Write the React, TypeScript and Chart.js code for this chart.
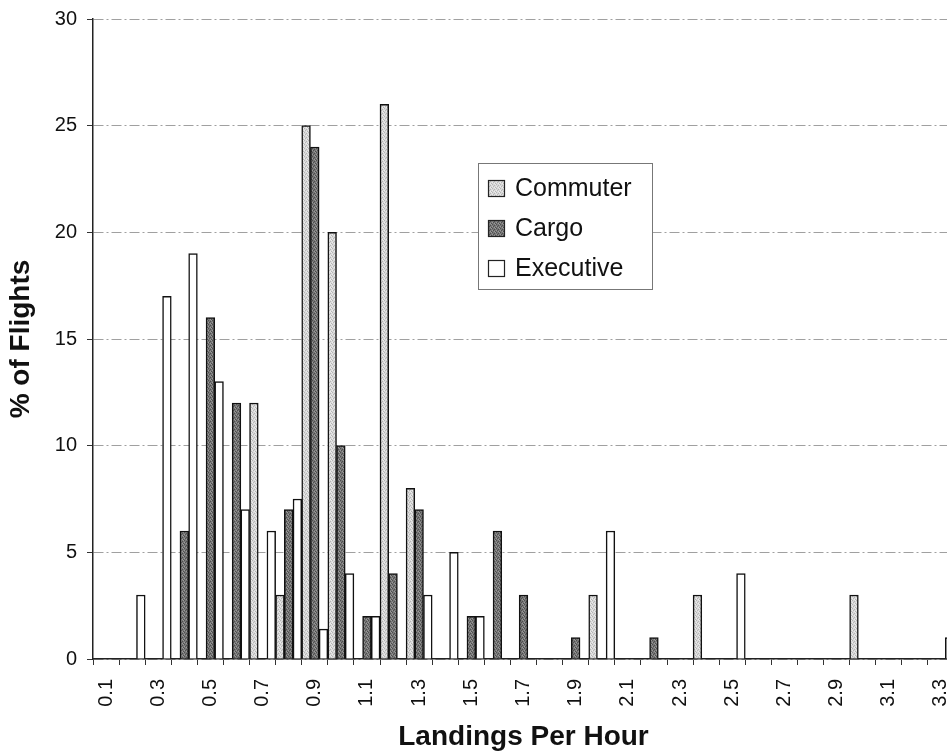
import React, { useEffect, useRef } from 'react';
import { Chart, registerables } from 'chart.js';

Chart.register(...registerables);

// ---- DATA ----
const categories = [
  '0.1', '0.2', '0.3', '0.4', '0.5', '0.6', '0.7', '0.8', '0.9', '1.0', '1.1',
  '1.2', '1.3', '1.4', '1.5', '1.6', '1.7', '1.8', '1.9', '2.0', '2.1', '2.2',
  '2.3', '2.4', '2.5', '2.6', '2.7', '2.8', '2.9', '3.0', '3.1', '3.2', '3.3',
];
const xTickLabels = [
  '0.1', '0.3', '0.5', '0.7', '0.9', '1.1', '1.3', '1.5', '1.7',
  '1.9', '2.1', '2.3', '2.5', '2.7', '2.9', '3.1', '3.3',
];
const seriesNames = ['Commuter', 'Cargo', 'Executive'];
const commuter = [
  null, null, null, null, null, null, 12, 3, 25, 20, null,
  26, 8, null, null, null, null, null, null, 3, null, null,
  null, 3, null, null, null, null, null, 3, null, null, null,
];
const cargo = [
  null, null, null, 6, 16, 12, null, 7, 24, 10, 2,
  4, 7, null, 2, 6, 3, null, 1, null, null, 1,
  null, null, null, null, null, null, null, null, null, null, null,
];
const executive = [
  null, 3, 17, 19, 13, 7, 6, 7.5, 1.4, 4, 2,
  null, 3, 5, 2, null, null, null, null, 6, null, null,
  null, null, 4, null, null, null, null, null, null, null, 1,
];
const yMin = 0;
const yMax = 30;
const yStep = 5;
const xTitle = 'Landings Per Hour';
const yTitle = '% of Flights';

const FONT = '"Liberation Sans", Arial, Helvetica, sans-serif';

function makePattern(
  ctx: CanvasRenderingContext2D,
  base: string,
  dark: string,
  light: string
): CanvasPattern | string {
  const c = document.createElement('canvas');
  c.width = 4;
  c.height = 4;
  const g = c.getContext('2d');
  if (!g) return base;
  g.fillStyle = base;
  g.fillRect(0, 0, 4, 4);
  g.fillStyle = dark;
  [[0, 0], [2, 1], [1, 2], [3, 3]].forEach(([x, y]) => g.fillRect(x, y, 1, 1));
  g.fillStyle = light;
  [[2, 3], [0, 2], [3, 0]].forEach(([x, y]) => g.fillRect(x, y, 1, 1));
  return ctx.createPattern(c, 'repeat') || base;
}

const legendPlugin = {
  id: 'boxLegend',
  afterDraw(chart: any) {
    const { ctx, chartArea } = chart;
    const x0 = chartArea.left + 385;
    const y0 = chartArea.top + 144;
    const w = 174;
    const h = 126;
    ctx.save();
    ctx.fillStyle = '#ffffff';
    ctx.fillRect(x0, y0, w, h);
    ctx.strokeStyle = '#777';
    ctx.lineWidth = 1;
    ctx.strokeRect(x0 + 0.5, y0 + 0.5, w, h);
    chart.data.datasets.forEach((ds: any, i: number) => {
      const cy = y0 + 25 + i * 40;
      ctx.fillStyle = ds.backgroundColor;
      ctx.fillRect(x0 + 10, cy - 8, 17, 17);
      ctx.strokeStyle = '#222';
      ctx.lineWidth = 1.2;
      ctx.strokeRect(x0 + 10.5, cy - 7.5, 16, 16);
      ctx.fillStyle = '#111';
      ctx.font = `25px ${FONT}`;
      ctx.textBaseline = 'middle';
      ctx.textAlign = 'left';
      ctx.fillText(ds.label, x0 + 37, cy + 1);
    });
    ctx.restore();
  },
};

export default function App() {
  const canvasRef = useRef<HTMLCanvasElement | null>(null);

  useEffect(() => {
    const canvas = canvasRef.current;
    if (!canvas) return;
    const ctx = canvas.getContext('2d');
    if (!ctx) return;

    const commuterFill = makePattern(ctx, '#d9d9d9', '#b5b5b5', '#ececec');
    const cargoFill = makePattern(ctx, '#767676', '#4e4e4e', '#9a9a9a');

    const chart = new Chart(ctx, {
      type: 'bar',
      data: {
        labels: categories,
        datasets: [
          {
            label: seriesNames[0],
            data: commuter,
            backgroundColor: commuterFill as any,
            borderColor: '#111',
            borderWidth: 1.5,
            categoryPercentage: 1,
            barPercentage: 1,
          },
          {
            label: seriesNames[1],
            data: cargo,
            backgroundColor: cargoFill as any,
            borderColor: '#111',
            borderWidth: 1.5,
            categoryPercentage: 1,
            barPercentage: 1,
          },
          {
            label: seriesNames[2],
            data: executive,
            backgroundColor: '#ffffff',
            borderColor: '#111',
            borderWidth: 1.5,
            categoryPercentage: 1,
            barPercentage: 1,
          },
        ],
      },
      options: {
        responsive: false,
        animation: false,
        devicePixelRatio: 1,
        layout: { padding: { top: 19, right: 4, left: 0, bottom: 0 } },
        plugins: {
          legend: { display: false },
          tooltip: { enabled: false },
        },
        scales: {
          x: {
            offset: true,
            afterFit: (s: any) => {
              s.height = 96;
              s.paddingLeft = 0;
              s.paddingRight = 0;
            },
            grid: {
              display: true,
              drawOnChartArea: false,
              drawTicks: true,
              tickLength: 6,
              tickColor: '#333',
              tickWidth: 1,
            },
            border: { display: true, color: '#222', width: 1.5 },
            ticks: {
              autoSkip: false,
              minRotation: 90,
              maxRotation: 90,
              padding: 14,
              color: '#111',
              font: { family: FONT, size: 20 },
              callback: (_v: any, i: number) =>
                xTickLabels.includes(categories[i]) ? categories[i] : '',
            },
            title: {
              display: true,
              text: xTitle,
              color: '#111',
              font: { family: FONT, size: 28, weight: 'bold' },
              padding: { top: 0, bottom: 1 },
            },
          },
          y: {
            min: yMin,
            max: yMax,
            afterFit: (s: any) => {
              s.width = 93;
              s.paddingTop = 0;
              s.paddingBottom = 0;
            },
            grid: {
              display: true,
              color: '#a0a0a0',
              lineWidth: 1,
              drawTicks: true,
              tickLength: 6,
              tickColor: '#333',
              tickBorderDash: [],
            },
            border: { display: true, color: '#222', width: 1.5, dash: [10, 3, 2, 3] },
            ticks: {
              stepSize: yStep,
              padding: 10,
              color: '#111',
              font: { family: FONT, size: 20 },
            },
            title: {
              display: true,
              text: yTitle,
              color: '#111',
              font: { family: FONT, size: 28, weight: 'bold' },
              padding: { top: 4, bottom: 0 },
            },
          },
        },
      },
      plugins: [legendPlugin],
    } as any);

    return () => {
      chart.destroy();
    };
  }, []);

  return (
    <div
      style={{
        position: 'fixed',
        left: 0,
        top: 0,
        width: 947,
        height: 755,
        overflow: 'hidden',
        background: '#ffffff',
      }}
    >
      <canvas ref={canvasRef} width={958} height={755} style={{ display: 'block' }} />
    </div>
  );
}
